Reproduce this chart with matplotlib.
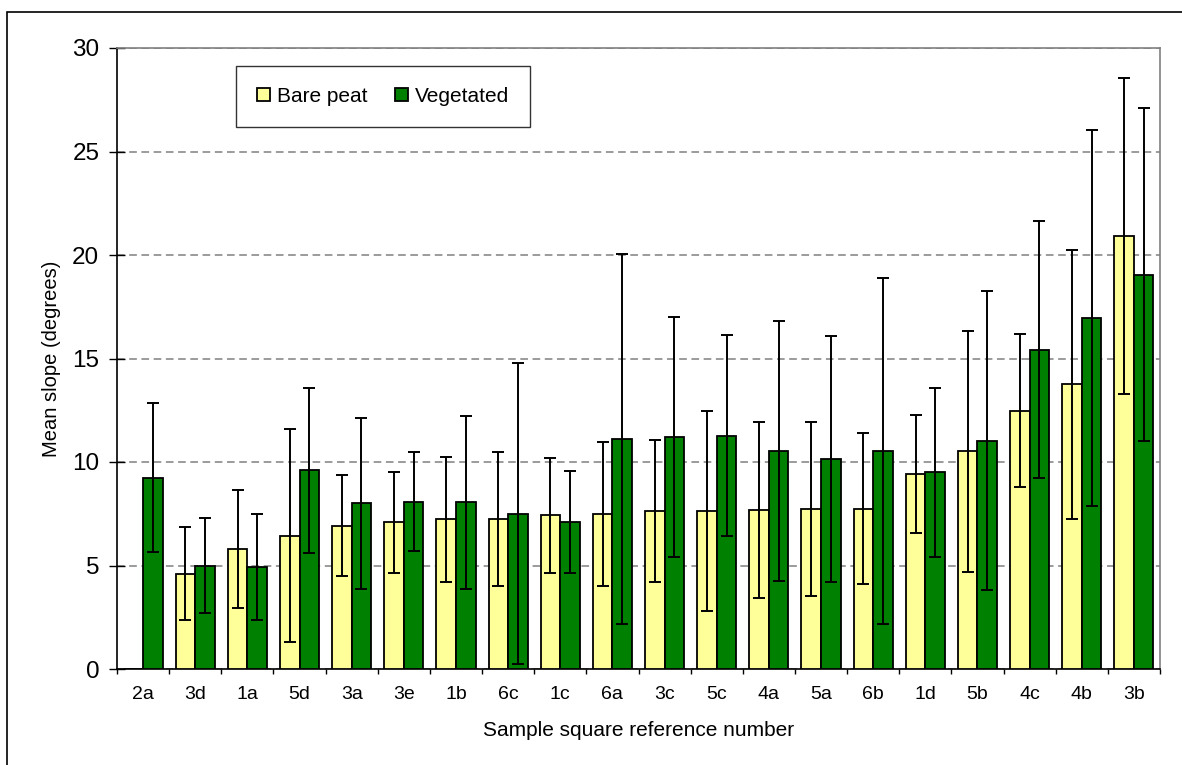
import numpy as np
import matplotlib
matplotlib.use("Agg")
import matplotlib.pyplot as plt
from matplotlib.patches import Rectangle

plt.rcParams['font.family'] = ['Liberation Sans', 'DejaVu Sans']

squares = ["2a", "3d", "1a", "5d", "3a", "3e", "1b", "6c", "1c", "6a",
           "3c", "5c", "4a", "5a", "6b", "1d", "5b", "4c", "4b", "3b"]

bare_mean = [0.0, 4.60, 5.80, 6.44, 6.93, 7.08, 7.23, 7.25, 7.42, 7.50,
             7.63, 7.65, 7.68, 7.73, 7.75, 9.42, 10.53, 12.47, 13.75, 20.90]
bare_sd = [np.nan, 2.24, 2.86, 5.15, 2.45, 2.45, 3.01, 3.22, 2.78, 3.47,
           3.42, 4.83, 4.23, 4.19, 3.66, 2.86, 5.82, 3.70, 6.50, 7.63]

veg_mean = [9.25, 5.00, 4.92, 9.60, 8.00, 8.08, 8.05, 7.50, 7.10, 11.10,
            11.20, 11.28, 10.55, 10.15, 10.54, 9.50, 11.02, 15.43, 16.95, 19.05]
veg_sd = [3.60, 2.30, 2.56, 3.98, 4.14, 2.38, 4.19, 7.26, 2.46, 8.93,
          5.80, 4.84, 6.28, 5.96, 8.35, 4.07, 7.22, 6.19, 9.08, 8.03]

yticks = [0, 5, 10, 15, 20, 25, 30]

W, H = 1182, 765
fig = plt.figure(figsize=(W / 100, H / 100), dpi=100)
ax = fig.add_axes([117 / W, 1 - 669 / H, (1160 - 117) / W, (669 - 48) / H])

x = np.arange(len(squares))
w = 0.375
bare_color = "#FFFF99"
veg_color = "#008000"

ax.bar(x - w / 2, bare_mean, width=w, color=bare_color, edgecolor="black",
       linewidth=1.3, label="Bare peat", zorder=3)
ax.bar(x + w / 2, veg_mean, width=w, color=veg_color, edgecolor="black",
       linewidth=1.3, label="Vegetated", zorder=3)

err_kw = dict(fmt="none", ecolor="black", elinewidth=1.4, capsize=4.2,
              capthick=1.4, zorder=4)
bm = np.array(bare_mean)
bs = np.array(bare_sd)
has = ~np.isnan(bs)
ax.errorbar((x - w / 2)[has], bm[has], yerr=bs[has], **err_kw)
ax.errorbar(x + w / 2, veg_mean, yerr=veg_sd, **err_kw)

ax.set_xlim(-0.5, len(squares) - 0.5)
ax.set_ylim(0, 30)
ax.set_yticks(yticks)
ax.yaxis.grid(True, color="#808080", linestyle=(0, (5, 3)), linewidth=1.1)
ax.set_axisbelow(True)

ax.set_xticks(x)
ax.set_xticklabels(squares, fontsize=14)
ax.set_xticks(np.arange(-0.5, len(squares), 1.0), minor=True)
ax.tick_params(axis="x", which="major", length=0, pad=12)
ax.tick_params(axis="x", which="minor", length=3.5, width=1, direction="out")
ax.tick_params(axis="y", direction="inout", length=11.5, width=1,
               labelsize=17.5, pad=7)

for side in ("left", "bottom"):
    ax.spines[side].set_color("black")
    ax.spines[side].set_linewidth(1.2)
for side in ("top", "right"):
    ax.spines[side].set_color("#808080")
    ax.spines[side].set_linewidth(1.2)

ax.set_xlabel("Sample square reference number", fontsize=15, labelpad=13)
ax.set_ylabel("Mean slope (degrees)", fontsize=14.5, labelpad=8)

leg = ax.legend(loc="upper left", bbox_to_anchor=(236 / W, 1 - 66 / H),
                bbox_transform=fig.transFigure, ncol=2, fontsize=15,
                frameon=True, fancybox=False, borderpad=1.0,
                handlelength=0.61, handleheight=0.61, handletextpad=0.34,
                columnspacing=1.35, borderaxespad=0)
leg.get_frame().set_edgecolor("black")
leg.get_frame().set_linewidth(1.0)

fig.patches.append(Rectangle((7 / W, -0.05), 1.2, 1 - 12 / H + 0.05,
                             transform=fig.transFigure, fill=False,
                             edgecolor="black", linewidth=1.2))

fig.savefig("out.png", dpi=100)
